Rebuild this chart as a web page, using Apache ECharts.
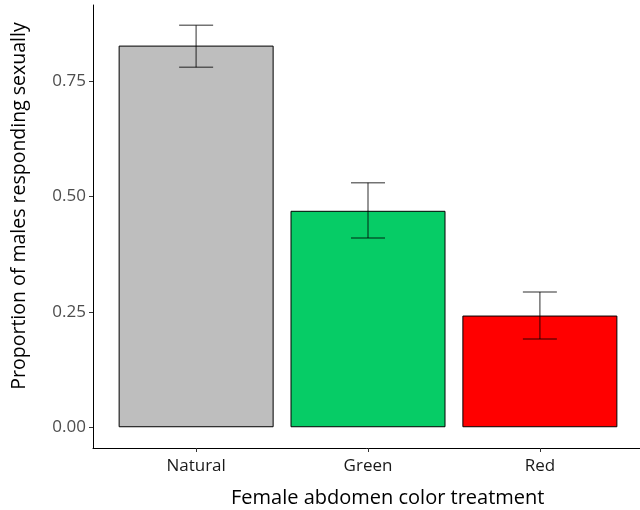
<!DOCTYPE html>
<html>
<head>
<meta charset="utf-8">
<script src="https://cdn.jsdelivr.net/npm/echarts@6/dist/echarts.min.js"></script>
<style>
  html, body { margin: 0; padding: 0; background: #fff; }
  #myChart { width: 640px; height: 510px; }
</style>
</head>
<body>
<div id="myChart"></div>
<script>
// categories and values
const categories = ['Natural', 'Green', 'Red'];
const proportions = [0.827, 0.469, 0.242];
const errLow = [0.780, 0.410, 0.191];
const errHigh = [0.871, 0.530, 0.293];
const barColors = ['#bebebe', '#06cc66', '#ff0000'];
const yTicks = [0, 0.25, 0.5, 0.75];
const xTicks = [1, 2, 3];

const fontFam = '"Open Sans", "Noto Sans", sans-serif';

let barData = [];
for (let i = 0; i < categories.length; i++) {
  barData.push({
    value: [xTicks[i], proportions[i]],
    itemStyle: { color: barColors[i], borderColor: '#000', borderWidth: 1 }
  });
}
let errData = [];
for (let i = 0; i < categories.length; i++) {
  errData.push([xTicks[i], errLow[i], errHigh[i]]);
}

let option = {
  animation: false,
  backgroundColor: '#fff',
  title: {
    text: 'Female abdomen color treatment',
    left: 226,
    top: 483,
    textStyle: { fontFamily: fontFam, fontSize: 20, fontWeight: 'normal', color: '#000' }
  },
  // y axis title, placed like the reference (not centred on the panel)
  graphic: [{
    type: 'text',
    x: 19,
    y: 206,
    rotation: Math.PI / 2,
    style: {
      text: 'Proportion of males responding sexually',
      fontFamily: fontFam, fontSize: 19.5, fill: '#000',
      align: 'center', verticalAlign: 'middle'
    }
  }],
  grid: { left: 93, right: -3, top: 5, bottom: 62, outerBoundsMode: 'none' },
  xAxis: {
    type: 'value',
    min: 0.4,
    max: 3.6,
    splitLine: { show: false },
    axisLine: { show: true, onZero: false, lineStyle: { color: '#000', width: 1 } },
    axisTick: { show: true, customValues: xTicks, length: 4, lineStyle: { color: '#333' } },
    axisLabel: {
      customValues: xTicks,
      formatter: v => categories[Math.round(v) - 1],
      fontFamily: fontFam, fontSize: 17, color: '#1a1a1a', margin: 10
    }
  },
  yAxis: {
    type: 'value',
    min: -0.045,
    max: 0.915,
    splitLine: { show: false },
    axisLine: { show: true, onZero: false, lineStyle: { color: '#000', width: 1 } },
    axisTick: { show: true, customValues: yTicks, length: 4, lineStyle: { color: '#333' } },
    axisLabel: {
      customValues: yTicks,
      formatter: v => v.toFixed(2),
      fontFamily: fontFam, fontSize: 17, color: '#4d4d4d', margin: 7
    }
  },
  series: [
    {
      type: 'bar',
      barWidth: 155,
      data: barData
    },
    {
      type: 'custom',
      z: 5,
      data: errData,
      renderItem: function (params, api) {
        const x = api.value(0);
        const lo = api.coord([x, api.value(1)]);
        const hi = api.coord([x, api.value(2)]);
        const half = 17;
        const style = { stroke: 'rgba(0,0,0,0.55)', lineWidth: 1.5 };
        return {
          type: 'group',
          children: [
            { type: 'line', shape: { x1: hi[0], y1: hi[1], x2: lo[0], y2: lo[1] }, style: style },
            { type: 'line', shape: { x1: hi[0] - half, y1: hi[1], x2: hi[0] + half, y2: hi[1] }, style: style },
            { type: 'line', shape: { x1: lo[0] - half, y1: lo[1], x2: lo[0] + half, y2: lo[1] }, style: style }
          ]
        };
      }
    }
  ]
};

const myChart = echarts.init(document.getElementById('myChart'));
myChart.setOption(option);
</script>
</body>
</html>
